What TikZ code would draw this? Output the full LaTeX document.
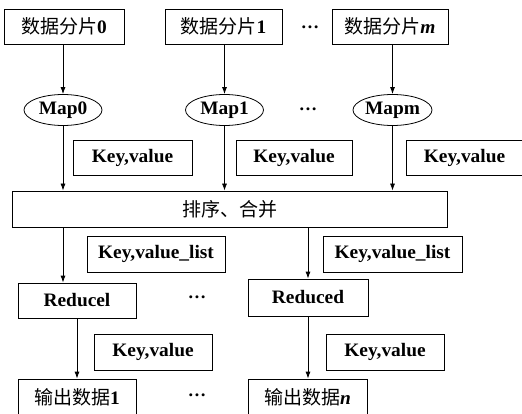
\documentclass[tikz,border=0pt]{standalone}
\usepackage{fontspec}
\setmainfont{Liberation Serif}[FakeStretch=1.02]
\newfontfamily\cjkf{Noto Sans CJK SC}
\newcommand\cjk{\mdseries\cjkf}
\usetikzlibrary{arrows.meta,shapes.geometric}
\begin{document}
\begin{tikzpicture}[x=1pt,y=-1pt,
  every node/.style={inner sep=0pt,font=\fontsize{19}{21}\selectfont\bfseries},
  bx/.style={draw,line width=0.8pt,rectangle},
  el/.style={draw,line width=0.8pt,ellipse,minimum width=78pt,minimum height=31pt},
  arr/.style={draw,line width=0.8pt,-{Latex[length=7pt,width=5pt]}},
  dts/.style={font=\fontsize{18}{20}\selectfont\bfseries}]
\useasboundingbox (0,0) rectangle (522,414);
% data shards
\node[bx,minimum width=120pt,minimum height=35pt] (d0) at (64,26.5) {{\cjk 数据分片}0};
\node[bx,minimum width=117pt,minimum height=35pt] (d1) at (223.5,26.5) {{\cjk 数据分片}1};
\node[dts] (dots1) at (310,27) {…};
\node[bx,minimum width=116pt,minimum height=35pt] (dm) at (390,26.5) {{\cjk 数据分片}\textit{m}};
% maps
\node[el] (m0) at (63,110) {Map0};
\node[el] (m1) at (224.5,110) {Map1};
\node[dts] (dots2) at (308,109) {…};
\node[el,minimum width=79pt] (mm) at (392.5,110) {Mapm};
% key value labels
\node[bx,minimum width=119pt,minimum height=35pt] (kv1) at (132.5,157.5) {Key,value};
\node[bx,minimum width=116pt,minimum height=35pt] (kv2) at (294,157.5) {Key,value};
\node[bx,minimum width=117pt,minimum height=35pt] (kv3) at (464.5,157.5) {Key,value};
% sort/merge
\node[bx,minimum width=435pt,minimum height=36pt] (sort) at (229.5,209) {{\cjk 排序、合并}};
% reduce
\node[bx,minimum width=138pt,minimum height=36pt] (kvl1) at (156,254) {Key,value\_list};
\node[bx,minimum width=139pt,minimum height=36pt] (kvl2) at (392.5,254) {Key,value\_list};
\node[bx,minimum width=118pt,minimum height=35pt] (r1) at (77,300.5) {Reducel};
\node[dts] (dots3) at (197,297) {…};
\node[bx,minimum width=120pt,minimum height=37pt] (r2) at (308,297.5) {Reduced};
% outputs
\node[bx,minimum width=118pt,minimum height=36pt] (kv4) at (153,352) {Key,value};
\node[bx,minimum width=118pt,minimum height=36pt] (kv5) at (385,352) {Key,value};
\node[bx,minimum width=118pt,minimum height=37pt] (o1) at (77,397.5) {{\cjk 输出数据}1};
\node[dts] (dots4) at (197,395) {…};
\node[bx,minimum width=119pt,minimum height=37pt] (o2) at (307.5,397.5) {{\cjk 输出数据}\textit{n}};
% arrows
\draw[arr] (d0.south -| m0.north) -- (m0.north);
\draw[arr] (d1.south -| m1.north) -- (m1.north);
\draw[arr] (dm.south -| mm.north) -- (mm.north);
\draw[arr] (m0.south) -- (m0.south |- sort.north);
\draw[arr] (m1.south) -- (m1.south |- sort.north);
\draw[arr] (mm.south) -- (mm.south |- sort.north);
\draw[arr] (sort.south -| m0.south) -- (m0.south |- r1.north);
\draw[arr] (r2.north |- sort.south) -- (r2.north);
\draw[arr] (r1.south) -- (o1.north);
\draw[arr] (r2.south) -- (r2.south |- o2.north);
\end{tikzpicture}
\end{document}
